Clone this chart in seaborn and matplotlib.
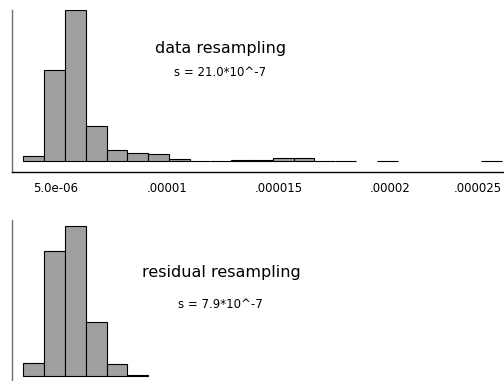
import matplotlib
matplotlib.use("Agg")
import matplotlib.pyplot as plt
import matplotlib.transforms as mtransforms
import numpy as np
import pandas as pd
import seaborn as sns

# histogram bins (same for both panels)
bin_start = 3.531e-6
bin_width = 9.344e-7

# bootstrap counts per bin
data_counts = [10, 183, 302, 71, 22, 17, 14, 4, 1, 1, 3, 3, 7, 7, 1, 1, 0, 1, 0, 0, 0, 0, 1]
resid_counts = [26, 251, 301, 109, 25, 2]

tick_vals = [5e-6, 1e-5, 1.5e-5, 2e-5, 2.5e-5]
tick_labels = ["5.0e-06", ".00001", ".000015", ".00002", ".000025"]

titles = ["data resampling", "residual resampling"]
notes = ["s = 21.0*10^-7", "s = 7.9*10^-7"]

sns.set_style("white")
plt.rcParams["font.family"] = ["DejaVu Sans"]
plt.rcParams["text.color"] = "black"
plt.rcParams["xtick.color"] = "black"

W, H = 504, 381
fig = plt.figure(figsize=(W / 100, H / 100), dpi=100)

ax1 = fig.add_axes([12 / W, (H - 172) / H, 508 / W, 162 / H])
ax2 = fig.add_axes([12 / W, (H - 387) / H, 508 / W, 167 / H])


def draw(ax, counts):
    n = len(counts)
    edges = bin_start + bin_width * np.arange(n + 1)
    df = pd.DataFrame({"x": (edges[:-1] + edges[1:]) / 2, "w": counts})
    sns.histplot(data=df, x="x", weights="w", bins=list(edges), ax=ax,
                 color="#a0a0a0", edgecolor="black", linewidth=0.8, alpha=1)
    for p in list(ax.patches):
        if p.get_height() == 0:
            p.remove()
    ax.set_xlim(3.023e-6, 2.5845e-5)
    ax.set_xlabel("")
    ax.set_ylabel("")
    ax.set_yticks([])
    for s in ["top", "right"]:
        ax.spines[s].set_visible(False)
    ax.spines["left"].set_color("#707070")
    ax.spines["left"].set_linewidth(1.0)
    ax.spines["bottom"].set_color("black")
    ax.spines["bottom"].set_linewidth(1.0)


draw(ax1, data_counts)
ax1.set_ylim(-22, 302)
ax1.set_xticks(tick_vals)
ax1.set_xticklabels(tick_labels, fontsize=8.5, color="black")
ax1.tick_params(axis="x", length=0, pad=7)
# last label sits at the right edge; keep it inside the picture
lbl = ax1.get_xticklabels()[-1]
lbl.set_horizontalalignment("right")
lbl.set_transform(lbl.get_transform() + mtransforms.ScaledTranslation(0.01, 0, fig.dpi_scale_trans))

draw(ax2, resid_counts)
ax2.set_ylim(-22, 312)
ax2.set_xticks([])

fig.text(221 / W, 1 - 48 / H, titles[0], ha="center", va="center", fontsize=11.5)
fig.text(220 / W, 1 - 72 / H, notes[0], ha="center", va="center", fontsize=8.5)
fig.text(221 / W, 1 - 273 / H, titles[1], ha="center", va="center", fontsize=11.5)
fig.text(220 / W, 1 - 304 / H, notes[1], ha="center", va="center", fontsize=8.5)

fig.savefig("out.png", dpi=100)
